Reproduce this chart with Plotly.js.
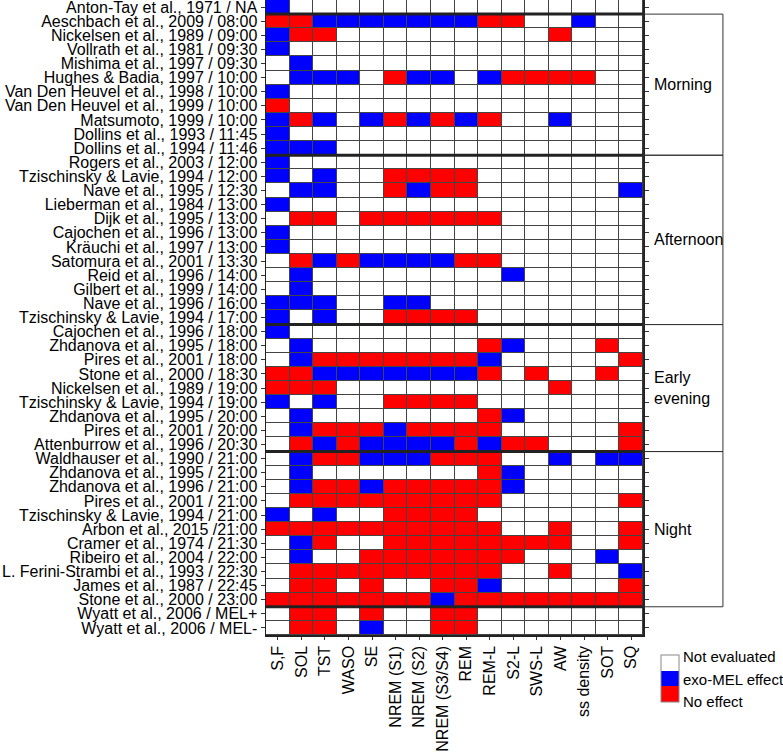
<!DOCTYPE html>
<html>
<head>
<meta charset="utf-8">
<script src="https://cdn.plot.ly/plotly-3.0.1.min.js"></script>
<style>
  body { margin: 0; background: #fff; }
  #sleep_plot { width: 783px; height: 754px; }
</style>
</head>
<body>
<div id="sleep_plot"></div>
<script>
// sleep parameters (columns)
var measures = ['S,F', 'SOL', 'TST', 'WASO', 'SE', 'NREM (S1)', 'NREM (S2)', 'NREM (S3/S4)',
	'REM', 'REM-L', 'S2-L', 'SWS-L', 'AW', 'ss density', 'SOT', 'SQ'];

// studies / time of administration (rows, top to bottom)
var studies = [
	'Anton-Tay et al., 1971 / NA',
	'Aeschbach et al., 2009 / 08:00',
	'Nickelsen et al., 1989 / 09:00',
	'Vollrath et al., 1981 / 09:30',
	'Mishima et al., 1997 / 09:30',
	'Hughes & Badia, 1997 / 10:00',
	'Van Den Heuvel et al., 1998 / 10:00',
	'Van Den Heuvel et al., 1999 / 10:00',
	'Matsumoto, 1999 / 10:00',
	'Dollins et al., 1993 / 11:45',
	'Dollins et al., 1994 / 11:46',
	'Rogers et al., 2003 / 12:00',
	'Tzischinsky & Lavie, 1994 / 12:00',
	'Nave et al., 1995 / 12:30',
	'Lieberman et al., 1984 / 13:00',
	'Dijk et al., 1995 / 13:00',
	'Cajochen et al., 1996 / 13:00',
	'Kräuchi et al., 1997 / 13:00',
	'Satomura et al., 2001 / 13:30',
	'Reid et al., 1996 / 14:00',
	'Gilbert et al., 1999 / 14:00',
	'Nave et al., 1996 / 16:00',
	'Tzischinsky & Lavie, 1994 / 17:00',
	'Cajochen et al., 1996 / 18:00',
	'Zhdanova et al., 1995 / 18:00',
	'Pires et al., 2001 / 18:00',
	'Stone et al., 2000 / 18:30',
	'Nickelsen et al., 1989 / 19:00',
	'Tzischinsky & Lavie, 1994 / 19:00',
	'Zhdanova et al., 1995 / 20:00',
	'Pires et al., 2001 / 20:00',
	'Attenburrow et al., 1996 / 20:30',
	'Waldhauser et al., 1990 / 21:00',
	'Zhdanova et al., 1995 / 21:00',
	'Zhdanova et al., 1996 / 21:00',
	'Pires et al., 2001 / 21:00',
	'Tzischinsky & Lavie, 1994 / 21:00',
	'Arbon et al., 2015 /21:00',
	'Cramer et al., 1974 / 21:30',
	'Ribeiro et al., 2004 / 22:00',
	'L. Ferini-Strambi et al., 1993 / 22:30',
	'James et al., 1987 / 22:45',
	'Stone et al., 2000 / 23:00',
	'Wyatt et al., 2006 / MEL+',
	'Wyatt et al., 2006 / MEL-'
];

// one string per study, one letter per measure
// W = not evaluated, B = exo-MEL effect, R = no effect
var results = [
	'BWWWWWWWWWWWWWWW',
	'RRBBBBBBBRRWWBWW',
	'BRRWWWWWWWWWRWWW',
	'BWWWWWWWWWWWWWWW',
	'WBWWWWWWWWWWWWWW',
	'WBBBWRBBWBRRRRWW',
	'BWWWWWWWWWWWWWWW',
	'RWWWWWWWWWWWWWWW',
	'BRBWBRBRBRWWBWWW',
	'BWWWWWWWWWWWWWWW',
	'BBBWWWWWWWWWWWWW',
	'BWWWWWWWWWWWWWWW',
	'BWBWWRRRRWWWWWWW',
	'WBBWWRBRRWWWWWWB',
	'BWWWWWWWWWWWWWWW',
	'WRRWRRRRRRWWWWWW',
	'BWWWWWWWWWWWWWWW',
	'BWWWWWWWWWWWWWWW',
	'WRBRBBBBRRWWWWWW',
	'WBWWWWWWWWBWWWWW',
	'WBWWWWWWWWWWWWWW',
	'BBBWWBBWWWWWWWWW',
	'BWBWWRRRRWWWWWWW',
	'BWWWWWWWWWWWWWWW',
	'WBWWWWWWWRBWWWRW',
	'WBRRRRRRRBWWWWWR',
	'RRBBBBBBBRWRWWRW',
	'RRRWWWWWWWWWRWWW',
	'BWBWWRRRRWWWWWWW',
	'WBWWWWWWWRBWWWWW',
	'WBRRRBRRRRWWWWWR',
	'WRBRBBBBRBRRWWWR',
	'WBRRBBBRRRWWBWBB',
	'WBWWWWWWWRBWWWWW',
	'WBRRBRRRRRBWWWWW',
	'WRRRRRRRRRWWWWWR',
	'BWBWWRRRRWWWWWWW',
	'RRRRRRRRRRWWRWWR',
	'WBRWWRRRRRRRRWWR',
	'WBWWRRRRRRRWWWBW',
	'WRRRRRRRRRWWRWWB',
	'WRRWRWWRRBWWWWWR',
	'RRRRRRRBRRRRRRRR',
	'WRRWRWWRRWWWWWWW',
	'WRRWBWWRRWWWWWWW'
];

// time-of-day groups: label, first study, last study
var groupLabels = ['Morning', 'Afternoon', 'Early<br>evening', 'Night'];
var groupFirst = ['Aeschbach et al., 2009 / 08:00', 'Rogers et al., 2003 / 12:00',
	'Cajochen et al., 1996 / 18:00', 'Waldhauser et al., 1990 / 21:00'];
var groupLast = ['Dollins et al., 1994 / 11:46', 'Tzischinsky & Lavie, 1994 / 17:00',
	'Attenburrow et al., 1996 / 20:30', 'Stone et al., 2000 / 23:00'];

var legendText = ['No effect', 'exo-MEL effect', 'Not evaluated'];
var codes = {R: 0, B: 1, W: 2};

var z = results.map(function (row) {
	return row.split('').map(function (c) { return codes[c]; });
});

var fontFamily = 'Liberation Sans, Arial, sans-serif';

var heat = {
	type: 'heatmap',
	x: measures,
	y: studies,
	z: z,
	zmin: -0.5,
	zmax: 2.5,
	xgap: 1,
	ygap: 1,
	hoverinfo: 'skip',
	colorscale: [
		[0, '#ff0000'], [1 / 3, '#ff0000'],
		[1 / 3, '#0000ff'], [2 / 3, '#0000ff'],
		[2 / 3, '#ffffff'], [1, '#ffffff']
	],
	showscale: true,
	colorbar: {
		x: 1.048, xanchor: 'left', xpad: 0,
		y: -0.069, yanchor: 'middle', ypad: 0,
		len: 47, lenmode: 'pixels',
		thickness: 18,
		// labels sit a little apart from the block centres, as in the original key
		tickvals: [-0.45, 0.92, 2.43],
		ticktext: legendText,
		ticks: '',
		tickfont: {family: fontFamily, size: 15, color: '#000'},
		outlinecolor: '#888',
		outlinewidth: 1
	}
};

var shapes = [];
var annotations = [];
for (var i = 0; i < groupLabels.length; i++) {
	var a = studies.indexOf(groupFirst[i]);
	var b = studies.indexOf(groupLast[i]);
	// thick separator above each group
	shapes.push({type: 'line', xref: 'paper', yref: 'y', x0: 0, x1: 1, y0: a - 0.5, y1: a - 0.5,
		line: {color: '#222', width: 3}});
	if (i === groupLabels.length - 1) {
		shapes.push({type: 'line', xref: 'paper', yref: 'y', x0: 0, x1: 1, y0: b + 0.5, y1: b + 0.5,
			line: {color: '#222', width: 3}});
	}
	// box on the right
	shapes.push({type: 'rect', xref: 'paper', yref: 'y', x0: 1, x1: 1.212, y0: a - 0.5, y1: b + 0.5,
		line: {color: '#333', width: 1}});
	annotations.push({xref: 'paper', yref: 'y', x: 1.024, y: (a + b) / 2, xanchor: 'left',
		yanchor: 'middle', align: 'left', showarrow: false, text: groupLabels[i],
		font: {family: fontFamily, size: 16, color: '#000'}});
}

var layout = {
	width: 783,
	height: 754,
	margin: {l: 266, r: 140, t: 0, b: 119, autoexpand: false},
	paper_bgcolor: '#ffffff',
	plot_bgcolor: '#444444',
	font: {family: fontFamily, color: '#000'},
	xaxis: {
		type: 'category',
		range: [-0.5, measures.length - 0.5],
		tickmode: 'linear', tick0: 0, dtick: 1,
		tickangle: -90,
		ticks: 'outside', ticklen: 3, tickcolor: '#333',
		showline: true, linecolor: '#222', linewidth: 1.5, mirror: true,
		showgrid: false, zeroline: false,
		tickfont: {family: fontFamily, size: 16, color: '#000'}
	},
	yaxis: {
		type: 'category',
		range: [studies.length - 0.5, -0.5],
		tickmode: 'linear', tick0: 0, dtick: 1,
		ticks: 'outside', ticklen: 4, tickcolor: '#333',
		showline: true, linecolor: '#222', linewidth: 1.5, mirror: 'ticks',
		showgrid: false, zeroline: false,
		tickfont: {family: fontFamily, size: 16, color: '#000'}
	},
	shapes: shapes,
	annotations: annotations
};

Plotly.newPlot('sleep_plot', [heat], layout, {staticPlot: true});
</script>
</body>
</html>
